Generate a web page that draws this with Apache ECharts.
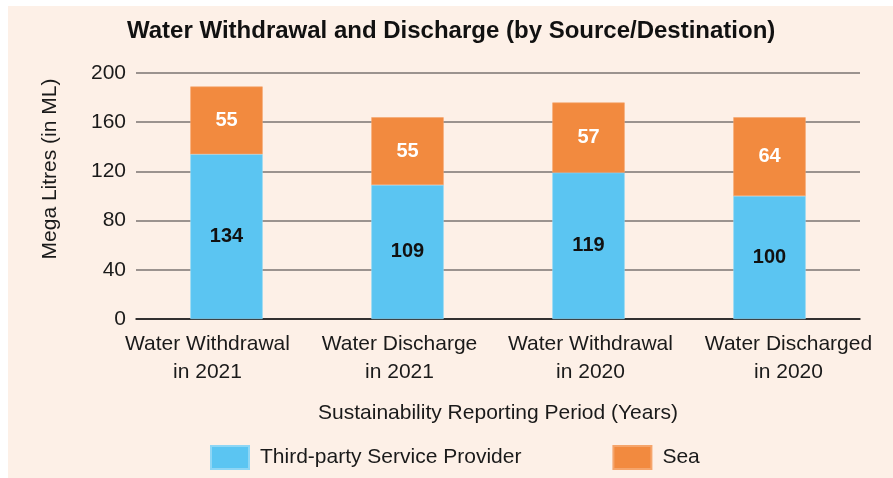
<!DOCTYPE html>
<html>
<head>
<meta charset="utf-8">
<script src="https://cdn.jsdelivr.net/npm/echarts@6/dist/echarts.min.js"></script>
<style>
html,body{margin:0;padding:0;background:#ffffff;}
#bg{position:absolute;left:8px;top:6px;width:885px;height:472px;background:#fdf0e7;}
#main{position:absolute;left:0;top:0;width:893px;height:478px;}
</style>
</head>
<body>
<div id="bg"></div>
<div id="main"></div>
<script>
const categories = ["Water Withdrawal\nin 2021", "Water Discharge\nin 2021", "Water Withdrawal\nin 2020", "Water Discharged\nin 2020"];
const thirdParty = [134, 109, 119, 100];
const sea = [55, 55, 57, 64];
const yTicks = [0, 40, 80, 120, 160, 200];

const FONT = "'Liberation Sans', Arial, Helvetica, sans-serif";
// horizontal nudges of the category labels (px), as laid out in the original
const labelShift = [-19, -8, 2, 19];
const rich = {};
labelShift.forEach((s, i) => {
  rich['s' + i] = {
    fontFamily: FONT, fontSize: 21, color: '#1a1a1a', lineHeight: 28,
    padding: s < 0 ? [0, -2 * s, 0, 0] : [0, 0, 0, 2 * s]
  };
});

const chart = echarts.init(document.getElementById('main'));
chart.setOption({
  backgroundColor: 'transparent',
  animation: false,
  textStyle: { fontFamily: FONT },
  title: {
    text: 'Water Withdrawal and Discharge (by Source/Destination)',
    left: 122, top: 14,
    textStyle: { fontFamily: FONT, fontSize: 24, fontWeight: 'bold', color: '#111' }
  },
  grid: { left: 136, right: 33, top: 73, bottom: 159, containLabel: false },
  legend: {
    left: 205, top: 440,
    itemWidth: 38, itemHeight: 23, itemGap: 91,
    icon: 'rect',
    textStyle: { fontFamily: FONT, fontSize: 21, color: '#1a1a1a', padding: [0, 0, 0, 6] },
    data: ['Third-party Service Provider', 'Sea']
  },
  graphic: [{
    type: 'text',
    x: 50, y: 169, rotation: Math.PI / 2,
    style: { text: 'Mega Litres (in ML)', fontFamily: FONT, fontSize: 21, fill: '#1a1a1a', align: 'center', verticalAlign: 'middle' }
  }],
  xAxis: {
    type: 'category',
    data: categories,
    name: 'Sustainability Reporting Period (Years)',
    nameLocation: 'middle',
    nameGap: 84,
    nameTextStyle: { fontFamily: FONT, fontSize: 21, color: '#1a1a1a' },
    axisLine: { lineStyle: { color: '#111', width: 1.5 } },
    axisTick: { show: false },
    axisLabel: {
      fontFamily: FONT, fontSize: 21, color: '#1a1a1a', lineHeight: 28, margin: 11, interval: 0,
      formatter: (value, index) => value.split('\n').map(t => '{s' + index + '|' + t + '}').join('\n'),
      rich: rich
    }
  },
  yAxis: {
    type: 'value',
    min: yTicks[0], max: yTicks[yTicks.length - 1], interval: 40,
    axisLine: { show: false },
    axisTick: { show: false },
    axisLabel: { fontFamily: FONT, fontSize: 21, color: '#1a1a1a', margin: 10 },
    splitLine: { lineStyle: { color: '#7a7572', width: 1.5 } }
  },
  series: [
    {
      name: 'Third-party Service Provider', type: 'bar', stack: 'total',
      data: thirdParty, barWidth: '40%',
      itemStyle: { color: '#5bc5f2', borderColor: '#8ed6f5', borderWidth: 0.6 },
      label: { show: true, position: 'inside', fontFamily: FONT, fontSize: 20, fontWeight: 'bold', color: '#111' }
    },
    {
      name: 'Sea', type: 'bar', stack: 'total',
      data: sea, barWidth: '40%',
      itemStyle: { color: '#f28a3f', borderColor: '#f5a56c', borderWidth: 0.6 },
      label: { show: true, position: 'inside', fontFamily: FONT, fontSize: 20, fontWeight: 'bold', color: '#ffffff' }
    }
  ]
});
</script>
</body>
</html>
